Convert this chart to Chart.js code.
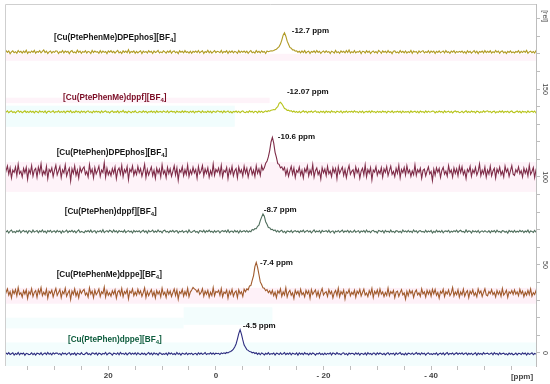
<!DOCTYPE html>
<html><head><meta charset="utf-8">
<script src="https://cdn.jsdelivr.net/npm/chart.js@4"></script>
<style>html,body{margin:0;padding:0;background:#fff}</style>
</head><body>
<canvas id="c" width="550" height="384"></canvas>
<script>
// ---------- data ----------
const compounds = [
  '[Cu(PtePhenMe)DPEphos][BF4]',
  '[Cu(PtePhenMe)dppf][BF4]',
  '[Cu(PtePhen)DPEphos][BF4]',
  '[Cu(PtePhen)dppf][BF4]',
  '[Cu(PtePhenMe)dppe][BF4]',
  '[Cu(PtePhen)dppe][BF4]'
];
const peakShifts = [-12.7, -12.07, -10.6, -8.7, -7.4, -4.5];   // ppm
const offsets = [171, 137, 103, 69, 34, -0.5];                  // stacking offsets [rel]
const gridStart = 39.5, gridStep = 0.25;                        // ppm sampling grid
const xTicks = [20, 0, -20, -40];
const yTicks = [0, 50, 100, 150];

const spec1 = [
0.3,-0.5,0.8,-0.2,0.6,-0.9,0.1,0.7,-0.4,0.2,-0.7,0.9,-0.1,0.4,-0.6,0.5,-0.3,1.0,-0.8,0.2,
-0.4,0.6,-0.2,0.9,-0.7,0.3,-0.1,0.8,-0.5,0.4,1.2,-0.3,0.5,-0.8,0.1,0.6,-0.6,0.3,-0.2,0.7,
0.5,-0.8,0.2,-0.3,0.9,-0.5,0.6,-0.1,0.4,-0.9,0.3,0.8,-0.4,0.1,-0.6,1.1,-0.2,0.5,-0.7,0.3,
-0.2,0.7,-0.6,0.4,0.1,-0.8,0.9,-0.3,0.6,-0.1,0.2,-0.7,0.8,-0.4,0.5,-0.2,0.3,-0.9,0.6,-0.1,
0.8,-0.3,0.4,-0.6,0.2,0.9,-0.5,0.1,-0.8,0.7,-0.2,0.5,-0.4,1.3,-0.6,0.3,-0.1,0.6,-0.7,0.4,
-0.5,0.2,0.7,-0.9,0.5,-0.2,0.3,-0.6,0.8,-0.1,0.4,-0.8,0.6,-0.3,0.2,0.9,-0.5,0.1,-0.4,0.7,
0.1,-0.6,0.5,-0.2,0.8,-0.7,0.3,0.6,-0.4,0.2,-0.9,0.7,-0.1,0.4,-0.5,0.8,-0.3,0.2,-0.6,0.5,
-0.7,0.4,-0.1,0.6,-0.3,0.9,-0.5,0.2,0.7,-0.8,0.3,-0.2,1.0,-0.4,0.5,-0.6,0.1,0.8,-0.3,0.4,
0.2,-0.4,0.9,-0.6,0.3,-0.1,0.7,-0.8,0.5,-0.2,0.6,-0.5,0.4,0.1,-0.7,0.8,-0.3,0.5,-0.1,0.6,
-0.3,0.5,-0.7,0.2,0.8,-0.4,0.1,-0.6,0.9,-0.2,0.4,-0.5,0.7,-0.1,0.3,-0.8,0.6,0.2,0.5,0.7,
0.6,0.9,1.3,1.6,2.4,3.1,4.5,6.8,9.6,11.0,9.0,6.2,4.4,2.6,2.2,1.2,1.3,0.5,0.7,-0.1,
0.4,-0.5,0.6,-0.3,0.8,-0.6,0.2,0.5,-0.8,0.3,-0.1,0.7,-0.4,0.9,-0.2,0.4,-0.7,0.1,0.6,-0.3,
0.7,-0.2,0.3,-0.8,0.5,0.1,-0.6,0.9,-0.4,0.2,-0.7,0.6,-0.1,0.4,-0.5,0.8,-0.3,1.1,-0.6,0.2,
-0.4,0.8,-0.5,0.2,-0.1,0.6,-0.9,0.4,0.3,-0.6,0.7,-0.2,0.5,-0.8,0.1,0.6,-0.4,0.3,-0.7,0.9,
0.3,-0.7,0.6,-0.1,0.4,-0.5,0.8,-0.3,0.2,-0.9,0.5,0.7,-0.4,0.1,-0.6,0.9,-0.2,0.4,-0.5,0.6,
-0.6,0.2,-0.3,0.9,-0.7,0.5,-0.1,0.3,-0.8,0.6,-0.2,0.4,0.8,-0.5,0.2,-0.3,0.7,-0.6,0.5,-0.1,
0.5,-0.8,0.4,-0.2,0.7,-0.4,0.1,0.6,-0.5,0.9,-0.3,0.2,-0.7,0.5,-0.1,0.8,-0.6,0.3,-0.2,0.4,
-0.1,0.6,-0.5,0.3,-0.8,0.7,-0.2,0.4,-0.6,0.1,0.8,-0.4,0.5,-0.9,0.3,-0.1,0.6,-0.5,0.9,-0.3,
0.4,-0.2,0.7,-0.6,0.2,-0.4,0.9,-0.1,0.5,-0.7,0.3,0.6,-0.5,0.2,-0.8,0.4,-0.2,0.7,-0.4,0.1,
-0.5,0.3,-0.1,0.8,-0.6,0.4,-0.3,0.6,-0.2,0.9,-0.7,0.1,0.5,-0.4,0.3,-0.6,0.8,-0.2,0.4,-0.5
];
const spec2 = [
-0.3,0.4,-0.1,0.6,-0.5,0.2,0.5,-0.4,0.1,-0.6,0.3,0.7,-0.2,0.4,-0.5,0.1,0.6,-0.3,0.2,-0.4,
0.5,-0.2,0.3,-0.6,0.4,0.1,-0.5,0.6,-0.1,0.3,-0.4,0.5,-0.7,0.2,0.4,-0.3,0.1,0.6,-0.5,0.2,
-0.1,0.6,-0.4,0.2,-0.3,0.5,-0.6,0.3,0.4,-0.2,0.7,-0.5,0.1,-0.4,0.6,-0.1,0.3,-0.6,0.5,-0.2,
0.4,-0.5,0.2,0.6,-0.3,0.1,-0.6,0.5,-0.2,0.4,-0.1,0.3,-0.5,0.6,-0.4,0.2,0.5,-0.3,0.1,-0.6,
0.2,0.5,-0.4,0.1,-0.2,0.6,-0.5,0.3,-0.1,0.8,-0.3,0.2,-0.6,0.4,0.1,-0.5,0.3,-0.2,0.6,-0.4,
-0.5,0.3,0.1,-0.4,0.6,-0.2,0.4,-0.6,0.2,-0.1,0.5,-0.3,0.4,-0.5,0.6,-0.2,0.1,0.3,-0.4,0.5,
0.1,-0.3,0.6,-0.5,0.2,0.4,-0.1,0.3,-0.6,0.5,-0.2,0.1,-0.4,0.6,-0.3,0.5,-0.1,0.2,-0.5,0.4,
-0.2,0.5,-0.6,0.3,-0.1,0.4,0.2,-0.5,0.6,-0.3,0.1,-0.4,0.5,-0.2,0.3,-0.6,0.4,0.1,-0.3,0.6,
0.3,-0.1,0.4,-0.5,0.6,-0.2,0.1,0.5,-0.4,0.2,-0.6,0.3,-0.1,0.5,-0.3,0.4,-0.5,0.2,0.6,-0.2,
-0.4,0.2,-0.3,0.6,-0.1,0.4,-0.5,0.3,0.2,-0.6,0.5,-0.2,0.4,-0.4,0.1,0.6,0.1,0.7,0.4,0.9,
1.1,1.3,1.2,2.3,3.0,4.9,5.5,4.6,3.3,1.9,1.6,0.8,1.0,0.4,0.7,-0.1,0.5,-0.3,0.2,-0.4,
0.3,-0.5,0.1,0.6,-0.2,0.4,-0.6,0.3,-0.1,0.5,-0.4,0.2,0.6,-0.3,0.1,-0.5,0.4,-0.2,0.3,-0.6,
0.5,-0.2,0.3,-0.4,0.6,-0.1,0.2,-0.5,0.4,0.1,-0.3,0.6,-0.6,0.2,-0.2,0.5,-0.4,0.3,-0.1,0.4,
-0.3,0.6,-0.1,0.2,-0.5,0.4,-0.3,0.5,-0.6,0.1,0.3,-0.2,0.5,-0.4,0.6,-0.1,0.2,-0.5,0.4,-0.2,
0.2,-0.4,0.5,-0.1,0.3,-0.6,0.4,0.1,-0.3,0.6,-0.5,0.2,-0.1,0.4,-0.2,0.3,-0.6,0.5,-0.3,0.1,
-0.1,0.3,-0.5,0.6,-0.2,0.1,0.4,-0.4,0.3,-0.6,0.5,-0.1,0.2,-0.5,0.6,-0.3,0.4,-0.2,0.1,0.5,
0.4,-0.6,0.2,-0.3,0.5,-0.1,0.3,-0.5,0.6,-0.2,0.1,0.4,-0.4,0.3,-0.6,0.2,0.5,-0.1,0.3,-0.4,
-0.2,0.4,-0.5,0.1,0.6,-0.3,0.2,-0.4,0.5,-0.1,0.3,-0.6,0.4,0.2,-0.5,0.1,-0.3,0.6,-0.2,0.4,
0.6,-0.1,0.3,-0.5,0.2,0.4,-0.6,0.1,-0.3,0.5,-0.2,0.6,-0.4,0.3,-0.1,0.4,-0.5,0.2,0.5,-0.3,
-0.4,0.1,0.5,-0.2,0.3,-0.6,0.4,-0.1,0.2,-0.5,0.6,-0.3,0.1,0.4,-0.2,0.5,-0.6,0.3,-0.1,0.2
];
const spec3 = [
1.5,-2.8,0.6,3.2,-1.4,2.1,-3.5,0.9,-0.4,2.7,-2.2,4.1,-1.1,0.3,-3.0,1.8,-0.7,2.5,-4.2,1.2,
-0.9,3.4,-2.5,0.8,1.9,-3.1,2.6,-0.5,4.5,-2.0,0.4,-1.6,3.0,-3.8,1.3,-0.2,2.2,-2.7,0.7,3.6,
-1.8,0.5,2.9,-3.3,1.1,-0.6,3.8,-2.4,0.2,2.0,-5.2,1.6,-1.0,3.3,-2.1,0.9,-3.6,2.4,-0.3,1.7,
2.8,-1.5,0.1,-2.9,4.0,-0.8,1.4,-3.4,2.3,-1.2,0.6,3.1,-2.6,1.0,-0.4,5.1,-3.0,1.9,-1.7,0.3,
-2.3,1.8,-0.9,2.6,-3.9,0.7,2.1,-1.3,3.5,-2.8,1.2,-0.5,2.9,-4.4,1.5,-0.1,3.2,-2.0,0.8,-1.6,
3.0,-0.6,1.7,-2.5,0.4,4.2,-3.2,1.3,-1.9,0.5,2.7,-2.2,0.9,-3.7,2.0,-0.8,1.4,-2.9,3.9,-1.1,
0.6,-3.3,2.4,-1.0,1.6,-2.6,0.2,3.3,-1.8,2.2,-4.8,1.0,-0.3,2.8,-2.3,1.1,-1.5,3.7,-2.7,0.8,
-1.4,2.5,-0.7,1.2,-3.6,2.9,-1.1,0.4,3.4,-2.4,1.5,-0.9,2.2,-3.1,0.6,-1.9,4.3,-2.0,1.3,-0.2,
2.1,-1.7,3.6,-2.9,0.8,-0.3,2.4,-3.8,1.4,-1.0,2.9,-2.3,0.5,1.8,-3.4,2.6,-0.6,1.1,-2.5,3.1,
-0.8,1.9,-3.0,0.7,2.5,-1.6,0.9,-2.7,3.3,-0.9,1.6,-2.0,3.4,0.9,2.2,4.8,5.9,8.4,12.0,16.9,
19.5,16.2,11.0,8.1,4.6,4.2,2.2,2.8,0.9,2.4,-1.8,1.3,-2.6,0.5,3.0,-1.4,2.1,-3.2,0.7,-0.4,
2.6,-1.9,0.8,-3.5,1.7,-0.2,3.2,-2.4,1.0,-1.3,4.0,-3.0,0.6,2.1,-1.6,0.3,-4.1,2.3,-0.7,1.5,
-2.2,3.0,-1.2,0.4,-2.8,2.2,-0.5,1.8,-3.9,2.7,-1.0,0.9,2.6,-2.1,1.3,-3.3,0.8,3.5,-1.5,0.2,
1.1,-2.6,2.7,-0.6,1.4,-3.7,0.3,2.0,-1.8,3.8,-2.9,1.2,-0.8,2.3,-4.6,1.0,-0.2,2.8,-2.0,0.7,
-1.0,2.3,-3.1,1.6,-0.4,2.9,-2.2,0.6,3.1,-1.5,0.2,-2.8,1.9,-0.9,3.6,-3.4,1.3,-0.5,2.4,-1.9,
3.3,-0.7,1.0,-2.7,0.5,-1.7,3.9,-2.1,1.2,-0.4,2.0,-3.6,0.8,1.5,-2.4,0.4,2.7,-1.3,0.1,-5.0,
1.4,-2.0,2.2,-0.3,1.8,-3.2,0.7,2.5,-1.4,0.3,-2.5,3.4,-0.6,1.0,-3.0,2.1,-0.9,1.7,-2.3,3.0,
-0.5,2.8,-1.6,0.6,-3.8,1.4,-0.1,3.0,-2.6,1.1,-0.7,2.4,-1.9,0.2,4.4,-2.2,0.9,-1.2,2.6,-3.1,
0.9,-1.3,3.1,-2.3,0.4,1.9,-3.5,1.5,-0.6,2.6,-1.8,0.3,-2.9,3.2,-0.2,1.6,-2.6,0.5,3.4,-1.4,
-2.1,1.2,-0.4,2.7,-1.1,0.6,-3.0,2.0,-0.9,1.4,-2.4,3.5,-1.5,0.1,2.3,-3.3,1.1,-0.3,2.0,-1.0
];
const spec4 = [
-0.4,0.7,-0.2,0.5,-0.8,0.3,0.9,-0.5,0.1,-0.6,0.4,-0.1,0.8,-0.7,0.2,0.6,-0.3,0.4,-0.9,0.5,
0.2,-0.6,0.8,-0.3,0.1,0.6,-0.7,0.4,-0.2,0.9,-0.4,0.3,-0.8,0.5,-0.1,0.7,-0.5,0.2,0.4,-0.6,
0.6,-0.2,0.3,-0.9,0.5,-0.4,0.1,0.8,-0.6,0.3,-0.1,0.7,-0.3,0.4,-0.7,0.2,0.9,-0.5,0.1,-0.2,
-0.7,0.4,-0.1,0.6,-0.3,0.8,-0.5,0.2,0.5,-0.8,0.3,-0.2,0.6,-0.4,1.0,-0.6,0.1,0.5,-0.3,0.7,
0.3,-0.5,0.9,-0.2,0.4,-0.7,0.6,-0.1,0.2,-0.4,0.8,-0.6,0.1,0.5,-0.3,0.3,-0.8,0.6,-0.2,0.4,
-0.1,0.5,-0.6,0.2,0.7,-0.3,0.4,-0.9,0.6,-0.2,0.1,0.8,-0.5,0.3,-0.4,0.9,-0.1,0.2,-0.7,0.5,
0.8,-0.3,0.1,-0.6,0.4,-0.1,0.7,-0.4,0.3,0.5,-0.8,0.2,-0.2,0.6,-0.5,0.1,0.4,-0.7,0.9,-0.3,
-0.5,0.2,0.6,-0.4,0.1,-0.8,0.5,0.3,-0.2,0.7,-0.6,0.4,-0.1,0.8,-0.3,0.2,-0.6,0.5,-0.4,0.3,
0.4,-0.7,0.2,0.5,-0.1,0.6,-0.4,0.9,-0.6,0.1,0.3,-0.5,0.7,-0.2,0.4,-0.8,0.6,-0.3,0.2,0.5,
-0.2,0.6,-0.4,0.3,-0.1,1.2,0.8,1.7,1.6,3.0,3.6,6.2,8.2,10.0,8.7,5.6,4.1,2.3,2.2,1.1,
1.3,0.5,0.9,-0.2,0.6,-0.4,0.3,0.7,-0.5,0.2,-0.8,0.4,0.1,-0.3,0.6,-0.6,0.2,0.5,-0.2,0.3,
-0.6,0.4,-0.1,0.8,-0.5,0.2,0.6,-0.3,0.4,-0.7,0.1,0.9,-0.4,0.3,-0.2,0.5,-0.8,0.6,-0.1,0.2,
0.5,-0.3,0.7,-0.6,0.1,0.4,-0.9,0.3,-0.2,0.6,-0.4,0.2,0.8,-0.5,0.3,-0.1,0.7,-0.6,0.4,-0.3,
-0.2,0.8,-0.4,0.1,0.5,-0.7,0.3,-0.1,0.6,-0.5,0.9,-0.3,0.2,-0.6,0.4,0.7,-0.2,0.1,-0.8,0.6,
0.3,-0.1,0.5,-0.8,0.6,-0.2,0.2,-0.5,0.8,-0.3,0.1,-0.6,0.5,0.3,-0.4,0.2,-0.7,0.9,-0.1,0.4,
-0.4,0.6,-0.3,0.2,-0.6,0.9,-0.1,0.4,-0.7,0.3,0.5,-0.2,0.1,-0.5,0.7,-0.4,0.3,-0.2,0.6,-0.8,
0.1,-0.5,0.8,-0.2,0.3,-0.4,0.6,-0.7,0.2,0.4,-0.1,0.7,-0.6,0.2,-0.3,0.5,-0.1,0.8,-0.5,0.3,
0.7,-0.2,0.1,-0.6,0.9,-0.3,0.4,0.2,-0.8,0.5,-0.2,0.3,-0.4,0.6,-0.7,0.1,0.4,-0.3,0.5,-0.1,
-0.3,0.5,-0.7,0.4,-0.1,0.6,-0.5,0.8,-0.2,0.1,-0.6,0.5,0.3,-0.4,0.2,-0.9,0.6,-0.1,0.3,-0.5,
0.6,-0.4,0.2,-0.3,0.7,-0.1,0.5,-0.6,0.3,-0.2,0.8,-0.7,0.4,0.1,-0.5,0.6,-0.3,0.2,-0.4,0.5
];
const spec5 = [
1.2,-2.0,0.5,2.4,-1.1,0.8,-2.7,1.6,-0.3,2.0,-1.5,3.1,-0.8,0.2,-2.2,1.4,-0.5,1.9,-3.0,0.9,
-0.6,2.5,-1.9,0.4,1.5,-2.3,2.0,-0.2,3.2,-1.4,0.6,-1.0,2.2,-2.8,1.0,-0.1,1.7,-2.1,0.5,2.7,
-1.3,0.3,2.1,-2.5,0.9,-0.4,2.8,-1.8,0.1,1.5,-3.6,1.2,-0.7,2.4,-1.6,0.7,-2.6,1.8,-0.2,1.3,
2.1,-1.1,0.2,-2.2,3.0,-0.5,1.1,-2.5,1.7,-0.9,0.4,2.3,-1.9,0.8,-0.3,3.5,-2.2,1.4,-1.2,0.2,
-1.7,1.3,-0.6,1.9,-2.8,0.6,1.6,-1.0,2.6,-2.0,0.9,-0.3,2.1,-3.2,1.1,0.0,2.4,-1.5,0.6,-1.2,
2.2,-0.4,1.3,-1.8,0.3,3.0,-2.4,1.0,-1.4,0.4,2.0,-1.6,0.7,-2.7,1.5,-0.6,1.0,-2.1,2.8,-0.8,
0.5,-2.4,1.8,-0.7,1.2,-1.9,0.3,2.4,-1.3,1.7,-3.4,0.8,-0.2,2.1,-1.7,0.9,-1.1,2.7,-2.0,0.6,
1.8,3.2,2.4,1.9,0.6,2.1,-0.8,0.3,2.5,-1.8,1.1,-0.6,1.6,-2.3,0.5,-1.4,3.1,-1.5,1.0,0.4,
1.6,-1.2,2.6,-2.1,0.6,-0.2,1.8,-2.8,1.1,-0.7,2.1,-1.7,0.4,1.3,-2.5,1.9,-0.4,0.8,-1.8,2.3,
0.8,2.4,1.9,4.1,4.3,7.3,10.0,15.1,17.5,14.6,10.6,6.4,4.9,3.0,2.8,1.4,2.0,0.3,1.3,-0.5,
1.6,-1.4,0.6,-2.6,1.3,-0.1,2.4,-1.8,0.7,-1.0,3.0,-2.2,0.4,1.6,-1.2,0.2,-3.0,1.7,-0.5,1.1,
-1.6,2.2,-0.9,0.3,-2.1,1.6,-0.4,1.3,-2.9,2.0,-0.7,0.7,1.9,-1.6,1.0,-2.4,0.6,2.6,-1.1,0.2,
0.8,-1.9,2.0,-0.4,1.0,-2.7,0.2,1.5,-1.3,2.8,-2.1,0.9,-0.6,1.7,-3.3,0.7,-0.1,2.1,-1.5,0.5,
-0.7,1.7,-2.3,1.2,-0.3,2.1,-1.6,0.4,2.3,-1.1,0.1,-2.0,1.4,-0.6,2.7,-2.5,1.0,-0.4,1.8,-1.4,
2.4,-0.5,0.7,-2.0,0.4,-1.3,2.9,-1.5,0.9,-0.3,1.5,-2.6,0.6,1.1,-1.8,0.3,2.0,-1.0,0.1,-3.4,
1.0,-1.5,1.6,-0.2,1.3,-2.4,0.5,1.8,-1.0,0.2,-1.9,2.5,-0.4,0.7,-2.2,1.6,-0.6,1.3,-1.7,2.2,
-0.4,2.1,-1.2,0.4,-2.8,1.0,-0.1,2.2,-1.9,0.8,-0.5,1.8,-1.4,0.1,3.2,-1.6,0.7,-0.9,1.9,-2.3,
0.7,-1.0,2.3,-1.7,0.3,1.4,-2.6,1.1,-0.4,1.9,-1.3,0.2,-2.1,2.4,-0.1,1.2,-1.9,0.4,2.5,-1.0,
-1.5,0.9,-0.3,2.0,-0.8,0.4,-2.2,1.5,-0.7,1.0,-1.8,2.6,-1.1,0.1,1.7,-2.4,0.8,-0.2,1.5,-0.7,
1.9,-0.6,0.8,-1.4,2.2,-0.3,1.2,-2.0,0.5,-1.1,1.6,-0.9,2.4,-1.7,0.3,-0.8,1.4,-2.5,0.9,-0.2
];
const spec6 = [
0.3,-0.6,0.5,-0.2,0.7,-0.4,0.1,0.6,-0.7,0.2,-0.3,0.8,-0.5,0.4,-0.1,0.5,-0.8,0.3,0.1,-0.4,
-0.2,0.6,-0.5,0.3,-0.7,0.4,0.2,-0.3,0.7,-0.6,0.1,0.5,-0.4,0.8,-0.2,0.3,-0.6,0.6,-0.1,0.4,
0.5,-0.3,0.2,-0.7,0.6,-0.1,0.4,-0.5,0.3,0.7,-0.6,0.2,-0.2,0.5,-0.8,0.4,0.1,-0.4,0.7,-0.3,
-0.5,0.2,0.7,-0.4,0.1,-0.6,0.5,0.3,-0.2,0.6,-0.7,0.4,0.2,-0.5,0.3,-0.1,0.8,-0.6,0.2,0.5,
0.1,-0.7,0.4,0.2,-0.3,0.6,-0.5,0.8,-0.1,0.3,-0.4,0.5,-0.6,0.2,0.7,-0.3,0.4,-0.2,0.6,-0.5,
0.6,-0.1,-0.4,0.5,-0.2,0.3,-0.6,0.1,0.7,-0.3,0.4,-0.5,0.6,-0.1,0.2,-0.7,0.5,0.3,-0.4,0.1,
-0.3,0.4,-0.6,0.7,-0.1,0.5,-0.4,0.2,-0.5,0.8,-0.2,0.3,-0.7,0.4,0.1,-0.3,0.6,-0.5,0.3,-0.1,
0.4,-0.5,0.1,0.3,-0.6,0.6,-0.2,0.5,-0.3,0.1,0.7,-0.4,0.2,-0.1,0.6,-0.2,0.5,-0.3,0.4,0.1,
0.3,-0.4,0.5,0.1,0.6,0.2,0.8,0.5,1.1,1.4,1.9,2.7,3.9,5.6,8.4,11.5,13.7,11.2,7.9,5.0,
3.7,2.4,2.0,1.3,1.2,0.6,0.9,0.2,0.6,-0.3,0.4,-0.5,0.5,0.1,-0.6,0.3,-0.2,0.7,-0.4,0.2,
-0.1,0.5,-0.7,0.4,0.2,-0.4,0.6,-0.3,0.1,0.7,-0.5,0.3,-0.2,0.6,-0.6,0.4,0.1,-0.3,0.5,-0.7,
0.6,-0.2,0.3,-0.5,0.7,-0.1,0.2,-0.6,0.4,-0.3,0.5,0.1,-0.7,0.3,-0.1,0.6,-0.4,0.2,-0.5,0.4,
-0.4,0.3,-0.1,0.6,-0.6,0.5,0.2,-0.3,0.7,-0.2,0.1,-0.5,0.4,0.6,-0.4,0.2,-0.7,0.5,-0.1,0.3,
0.2,-0.5,0.6,-0.2,0.4,-0.7,0.3,0.1,-0.4,0.5,-0.6,0.7,-0.1,0.2,-0.5,0.4,0.3,-0.6,0.6,-0.2,
0.5,0.1,-0.4,0.3,-0.6,0.2,0.6,-0.5,0.3,-0.1,0.4,-0.7,0.5,-0.3,0.2,0.7,-0.4,0.1,-0.6,0.4,
-0.6,0.4,0.2,-0.3,0.5,-0.4,0.1,0.7,-0.2,0.3,-0.5,0.6,-0.1,0.4,-0.7,0.2,0.5,-0.3,0.1,-0.4,
0.3,-0.2,0.6,-0.7,0.1,0.4,-0.3,0.5,-0.6,0.2,0.7,-0.4,0.3,-0.1,0.5,-0.5,0.2,0.6,-0.3,0.4,
-0.1,0.6,-0.4,0.2,0.5,-0.6,0.3,-0.2,0.4,-0.5,0.1,0.6,-0.7,0.5,-0.2,0.3,-0.4,0.7,-0.1,0.2,
0.4,-0.3,0.1,0.5,-0.5,0.7,-0.1,0.3,-0.6,0.6,-0.2,0.2,0.4,-0.4,0.1,-0.6,0.5,-0.2,0.3,-0.5,
-0.2,0.5,-0.6,0.3,0.2,-0.4,0.6,-0.1,0.5,-0.7,0.4,-0.3,0.1,0.6,-0.5,0.2,-0.1,0.4,-0.6,0.3
];
const spectra = [spec1, spec2, spec3, spec4, spec5, spec6];

// ---------- styling ----------
const lineColors = ['#b09a24', '#b7c41c', '#7e2c48', '#4f6e5c', '#a05a2c', '#2e2e80'];
const nameColors = ['#151515', '#7a0c24', '#151515', '#151515', '#151515', '#0b5b3c'];
const namePos  = [[30.1,179.0],[28.4,144.9],[29.6,113.6],[28.1,80.1],[29.6,44.3],[27.5,7.4]];
const shiftPos = [[-14.1,183.0],[-13.2,148.3],[-11.5,122.7],[-8.9,81.3],[-8.2,51.1],[-5.0,15.3]];
// faint highlight bands behind traces: [ppmFrom, ppmTo, relTop, relBottom, colour]
const bands = [
  [39.2,-59.5,170.0,166.0,'rgba(252,220,238,0.35)'],
  [39.2,-10.0,145.0,142.0,'rgba(252,220,238,0.35)'],
  [39.2,-3.5,140.5,128.5,'rgba(220,250,250,0.4)'],
  [39.2,-59.5,108.5,91.5,'rgba(252,225,240,0.4)'],
  [39.2,-59.5,37.0,28.0,'rgba(252,220,238,0.4)'],
  [6.0,-10.5,26.0,16.0,'rgba(220,250,250,0.35)'],
  [39.2,6.0,20.0,14.0,'rgba(220,250,250,0.3)'],
  [39.2,-59.5,6.0,-7.4,'rgba(226,250,250,0.4)']
];

const datasets = spectra.map((arr, i) => ({
  label: compounds[i],
  data: arr.map((v, j) => ({ x: gridStart - j * gridStep, y: v + offsets[i] })),
  borderColor: lineColors[i],
  borderWidth: 1.1,
  pointRadius: 0,
  tension: 0,
  fill: false
}));

const FONT = 'Liberation Sans, Arial, sans-serif';

const decor = {
  id: 'decor',
  beforeDatasetsDraw(chart) {
    const { ctx, scales: { x, y } } = chart;
    ctx.save();
    bands.forEach(b => {
      const x1 = x.getPixelForValue(b[0]), x2 = x.getPixelForValue(b[1]);
      const y1 = y.getPixelForValue(b[2]), y2 = y.getPixelForValue(b[3]);
      ctx.fillStyle = b[4];
      ctx.fillRect(Math.min(x1,x2), y1, Math.abs(x2-x1), y2-y1);
    });
    ctx.restore();
  },
  afterDatasetsDraw(chart) {
    const { ctx, chartArea: a, scales: { x, y } } = chart;
    ctx.save();
    ctx.strokeStyle = '#cfcfcf';
    ctx.lineWidth = 1;
    ctx.beginPath();
    ctx.moveTo(a.left + 0.5, a.bottom);
    ctx.lineTo(a.left + 0.5, a.top + 0.5);
    ctx.lineTo(a.right, a.top + 0.5);
    ctx.stroke();
    ctx.textBaseline = 'middle';
    ctx.textAlign = 'left';
    compounds.forEach((name, i) => {
      let px = x.getPixelForValue(namePos[i][0]);
      const py = y.getPixelForValue(namePos[i][1]);
      ctx.fillStyle = nameColors[i];
      const main = name.slice(0, -2);
      ctx.font = 'bold 8.2px ' + FONT;
      ctx.fillText(main, px, py);
      px += ctx.measureText(main).width;
      ctx.font = 'bold 6px ' + FONT;
      ctx.fillText('4', px, py + 2);
      px += ctx.measureText('4').width;
      ctx.font = 'bold 8.2px ' + FONT;
      ctx.fillText(']', px, py);
    });
    ctx.fillStyle = '#111';
    ctx.font = 'bold 8px ' + FONT;
    peakShifts.forEach((s, i) => {
      ctx.fillText(s + ' ppm', x.getPixelForValue(shiftPos[i][0]), y.getPixelForValue(shiftPos[i][1]));
    });
    ctx.fillStyle = '#444';
    ctx.font = '7px ' + FONT;
    ctx.textAlign = 'center';
    yTicks.forEach(v => {
      ctx.save();
      ctx.translate(545, y.getPixelForValue(v));
      ctx.rotate(Math.PI / 2);
      ctx.fillText(String(v), 0, 0);
      ctx.restore();
    });
    ctx.save();
    ctx.translate(545, a.top + 12);
    ctx.rotate(Math.PI / 2);
    ctx.fillText('[rel]', 0, 0);
    ctx.restore();
    ctx.font = 'bold 8px ' + FONT;
    ctx.fillStyle = '#444';
    ctx.fillText('[ppm]', 522, 377);
    ctx.restore();
  }
};

new Chart(document.getElementById('c'), {
  type: 'line',
  data: { datasets },
  options: {
    responsive: false,
    animation: false,
    devicePixelRatio: 1,
    layout: { padding: { left: 5, top: 4, right: 0, bottom: 0 } },
    plugins: { legend: { display: false }, tooltip: { enabled: false } },
    scales: {
      x: {
        type: 'linear', reverse: true, min: -59.5, max: 39.2, position: 'bottom',
        border: { display: false },
        grid: { drawOnChartArea: false, drawTicks: true, tickLength: 4, color: '#bdbdbd' },
        ticks: {
          stepSize: 5, includeBounds: false, autoSkip: false, maxRotation: 0, padding: 1,
          color: '#444', font: { family: FONT, size: 8, weight: 'bold' },
          callback: v => xTicks.includes(v) ? (v < 0 ? '- ' + (-v) : String(v)) : ''
        },
        afterFit: s => { s.height = 18; }
      },
      y: {
        type: 'linear', position: 'right', min: -7.4, max: 198.3,
        border: { display: true, color: '#bdbdbd' },
        grid: { drawOnChartArea: false, drawTicks: true, tickLength: 4, color: '#bdbdbd' },
        ticks: { stepSize: 10, includeBounds: false, display: false },
        afterFit: s => { s.width = 14; }
      }
    }
  },
  plugins: [decor]
});
</script>
</body></html>
